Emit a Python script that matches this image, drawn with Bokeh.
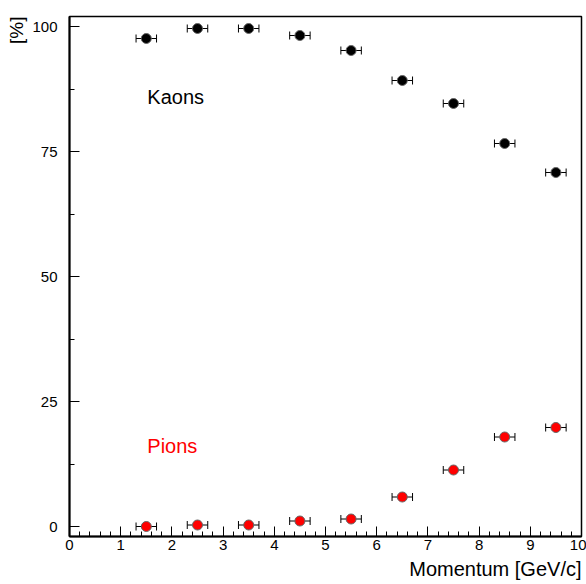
import numpy as np
from bokeh.plotting import figure
from bokeh.models import (ColumnDataSource, Whisker, TeeHead, Label, FixedTicker, Range1d, Title)
from bokeh.embed import file_html
from bokeh.resources import INLINE

momentum = [1.5, 2.5, 3.5, 4.5, 5.5, 6.5, 7.5, 8.5, 9.5]
x_err = [0.2] * 9
kaons = [97.6, 99.6, 99.6, 98.2, 95.2, 89.2, 84.6, 76.6, 70.8]
pions = [0.0, 0.3, 0.3, 1.1, 1.5, 5.9, 11.3, 17.9, 19.8]
x_ticks = list(range(0, 11))
y_ticks = [0, 25, 50, 75, 100]
y_minor = [12.5, 37.5, 62.5, 87.5]

FONT = "Liberation Sans"

p = figure(width=586, height=584, output_backend="svg", toolbar_location=None,
           x_range=Range1d(0, 10), y_range=Range1d(-2, 102),
           min_border_left=69, min_border_top=16, min_border_right=5, min_border_bottom=48)
p.xgrid.visible = False
p.ygrid.visible = False
p.outline_line_color = "black"
p.outline_line_width = 1.5
p.background_fill_color = "white"
p.border_fill_color = "white"

for ax in (p.xaxis[0], p.yaxis[0]):
    ax.axis_line_width = 2
    ax.axis_line_color = "black"
    ax.major_tick_in = 10
    ax.major_tick_out = 0
    ax.minor_tick_in = 5
    ax.minor_tick_out = 0
    ax.major_tick_line_color = "black"
    ax.minor_tick_line_color = "black"
    ax.major_label_text_font = FONT
    ax.major_label_text_font_size = "15px"
    ax.major_label_text_color = "black"

minor_x = [i * 0.2 for i in range(51) if i % 5 != 0]
p.xaxis.ticker = FixedTicker(ticks=x_ticks, minor_ticks=minor_x)
p.yaxis.ticker = FixedTicker(ticks=y_ticks, minor_ticks=y_minor)
p.xaxis.major_label_standoff = 3
p.yaxis.major_label_standoff = 12

def draw(yvals, color):
    xs = np.array(momentum)
    xe = np.array(x_err)
    src = ColumnDataSource(dict(x=xs, y=yvals, lo=xs - xe, hi=xs + xe))
    w = Whisker(source=src, base="y", lower="lo", upper="hi", dimension="width",
                line_color="black", line_width=1,
                lower_head=TeeHead(size=8, line_color="black", line_width=1),
                upper_head=TeeHead(size=8, line_color="black", line_width=1))
    p.add_layout(w)
    p.scatter("x", "y", source=src, size=10, fill_color=color, line_color="#666666",
              line_width=1, marker="circle")

draw(kaons, "black")
draw(pions, "red")

p.add_layout(Label(x=1.52, y=86, text="Kaons", text_font=FONT, text_font_size="20px",
                   text_color="black", text_baseline="middle"))
p.add_layout(Label(x=1.52, y=16.2, text="Pions", text_font=FONT, text_font_size="20px",
                   text_color="red", text_baseline="middle"))

p.add_layout(Title(text="Momentum [GeV/c]", align="right", text_font=FONT,
                   text_font_size="20px", text_font_style="normal", text_color="black",
                   standoff=6), "below")
p.add_layout(Title(text="[%]", align="right", text_font=FONT,
                   text_font_size="19px", text_font_style="normal", text_color="black",
                   standoff=6), "left")

open("out.html", "w").write(file_html(p, INLINE))
